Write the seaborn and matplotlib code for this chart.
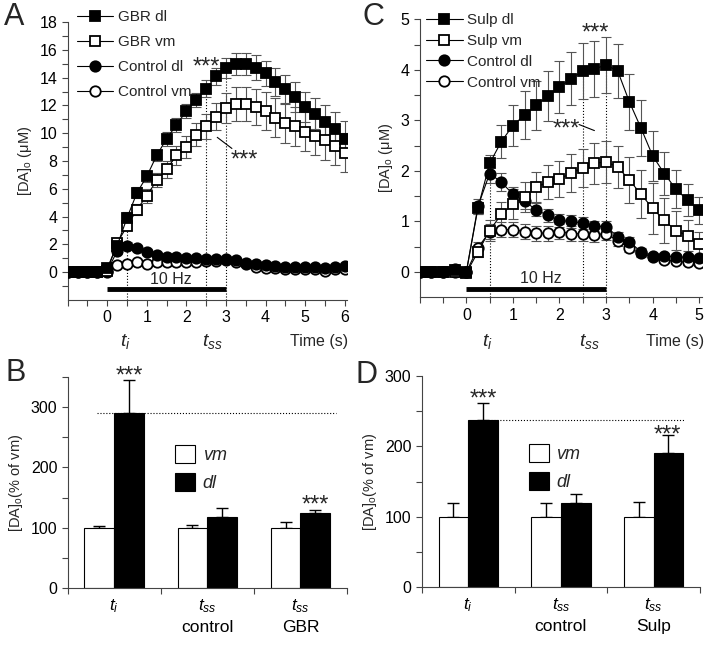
import numpy as np
import pandas as pd
import seaborn as sns
import matplotlib.pyplot as plt
from matplotlib.lines import Line2D
from matplotlib.patches import Patch
import matplotlib.transforms as mtransforms

sns.set_style('ticks')
plt.rcParams['font.family'] = ['Liberation Sans', 'DejaVu Sans']
plt.rcParams['mathtext.fontset'] = 'custom'
plt.rcParams['mathtext.rm'] = 'Liberation Sans'
plt.rcParams['mathtext.it'] = 'Liberation Sans:italic'
plt.rcParams['axes.edgecolor'] = '#444444'
plt.rcParams['xtick.color'] = '#444444'
plt.rcParams['ytick.color'] = '#444444'
plt.rcParams['xtick.labelcolor'] = 'black'
plt.rcParams['ytick.labelcolor'] = 'black'

# ---- panel A: GBR, time course (s) ----
time_a = np.arange(-1, 6.01, 0.25)
gbr_dl = [0, 0, 0, 0, 0.3, 1.9, 3.9, 5.7, 6.9, 8.4, 9.6, 10.6, 11.6, 12.4, 13.2, 14.1,
          14.7, 15.0, 15.0, 14.7, 14.3, 13.7, 13.2, 12.6, 11.9, 11.4, 10.8, 10.3, 9.6]
gbr_dl_err = [0.1, 0.1, 0.1, 0.1, 0.1, 0.3, 0.4, 0.4, 0.4, 0.4, 0.5, 0.5, 0.5, 0.5, 0.6,
              0.6, 0.7, 0.8, 0.8, 0.9, 0.9, 1.0, 1.0, 1.1, 1.1, 1.1, 1.2, 1.2, 1.3]
gbr_vm = [0, 0, 0, 0, 0.1, 2.1, 3.3, 4.5, 5.5, 6.6, 7.4, 8.4, 9.0, 9.9, 10.5, 11.2,
          11.8, 12.1, 12.1, 11.9, 11.6, 11.1, 10.7, 10.5, 10.1, 9.8, 9.5, 9.1, 8.6]
gbr_vm_err = [0.1, 0.1, 0.1, 0.1, 0.1, 0.3, 0.3, 0.4, 0.5, 0.5, 0.6, 0.7, 0.8, 0.8, 0.9,
              1.0, 1.1, 1.2, 1.2, 1.3, 1.4, 1.4, 1.4, 1.4, 1.4, 1.4, 1.4, 1.4, 1.4]
ctla_dl = [0, 0, 0, 0, 0.1, 1.5, 1.9, 1.75, 1.45, 1.25, 1.1, 1.05, 1.0, 1.0, 0.95, 0.95,
           0.95, 0.85, 0.65, 0.55, 0.5, 0.45, 0.4, 0.35, 0.35, 0.35, 0.3, 0.4, 0.45]
ctla_dl_err = [0.05] * 5 + [0.2, 0.25, 0.2, 0.2, 0.15, 0.15, 0.15, 0.15, 0.15, 0.15, 0.15,
                            0.15, 0.15, 0.1, 0.1, 0.1, 0.1, 0.1, 0.1, 0.1, 0.1, 0.1, 0.1, 0.1]
ctla_vm = [0, 0, 0, 0, 0, 0.5, 0.6, 0.7, 0.6, 0.7, 0.7, 0.75, 0.75, 0.75, 0.8, 0.8,
           0.85, 0.75, 0.55, 0.4, 0.3, 0.3, 0.25, 0.25, 0.2, 0.2, 0.1, 0.2, 0.25]
ctla_vm_err = [0.05] * 5 + [0.15] * 24

# ---- panel C: sulpiride, time course (s) ----
time_c = np.arange(-1, 5.01, 0.25)
sulp_dl = [0, 0, 0, 0.03, 0, 1.27, 2.15, 2.58, 2.9, 3.11, 3.3, 3.48, 3.66, 3.83, 3.98,
           4.02, 4.1, 3.98, 3.37, 2.85, 2.3, 1.95, 1.64, 1.42, 1.22]
sulp_dl_err = [0.03] * 5 + [0.12, 0.17, 0.33, 0.4, 0.47, 0.48, 0.5, 0.52, 0.53, 0.55,
                            0.55, 0.55, 0.53, 0.55, 0.55, 0.5, 0.43, 0.38, 0.32, 0.26]
sulp_vm = [0, 0, 0, 0, -0.02, 0.4, 0.82, 1.14, 1.34, 1.49, 1.68, 1.78, 1.84, 1.96, 2.06,
           2.15, 2.18, 2.08, 1.82, 1.54, 1.26, 1.02, 0.82, 0.72, 0.56]
sulp_vm_err = [0.03] * 5 + [0.1, 0.2, 0.25, 0.3, 0.3, 0.3, 0.33, 0.35, 0.37, 0.37,
                            0.4, 0.42, 0.42, 0.45, 0.48, 0.5, 0.45, 0.38, 0.3, 0.24]
ctlc_dl = [0, 0, 0, 0.05, 0, 1.3, 1.95, 1.78, 1.54, 1.4, 1.23, 1.12, 1.02, 1.0, 0.97,
           0.91, 0.9, 0.7, 0.6, 0.4, 0.32, 0.32, 0.3, 0.29, 0.27]
ctlc_dl_err = [0.03] * 5 + [0.15, 0.18, 0.18, 0.15, 0.15, 0.13, 0.13, 0.12, 0.12, 0.12,
                            0.1, 0.1, 0.1, 0.1, 0.08, 0.06, 0.06, 0.06, 0.06, 0.06]
ctlc_vm = [0, 0, 0, 0, 0, 0.48, 0.8, 0.84, 0.84, 0.8, 0.77, 0.77, 0.8, 0.76, 0.76,
           0.74, 0.76, 0.62, 0.47, 0.37, 0.3, 0.24, 0.21, 0.19, 0.17]
ctlc_vm_err = [0.03] * 5 + [0.12, 0.15, 0.15, 0.15, 0.15, 0.15, 0.15, 0.15, 0.15, 0.15,
                            0.14, 0.13, 0.1, 0.08, 0.07, 0.06, 0.06, 0.06, 0.05, 0.05]

# ---- panels B and D: % of vm ----
conds = ['ti', 'tss control', 'tss drug']
b_vm = [100, 100, 100]
b_vm_err = [3, 5, 10]
b_dl = [290, 118, 125]
b_dl_err = [55, 15, 5]
d_vm = [100, 100, 100]
d_vm_err = [19, 19, 21]
d_dl = [238, 120, 191]
d_dl_err = [24, 12, 25]

fig = plt.figure(figsize=(7.2, 6.49), dpi=100)
ax_a = fig.add_axes([0.094, 0.538, 0.388, 0.428])
ax_c = fig.add_axes([0.583, 0.542, 0.392, 0.428])
ax_b = fig.add_axes([0.094, 0.094, 0.388, 0.325])
ax_d = fig.add_axes([0.586, 0.0955, 0.386, 0.325])


def stars(ax, x, y, ha='center'):
    # asterisks sit high in the em box, so pull the text down a little
    tr = mtransforms.offset_copy(ax.transData, fig=fig, y=-7, units='dots')
    ax.text(x, y, '***', transform=tr, ha=ha, va='center', fontsize=17, clip_on=False)


def trace(ax, t, y, err, marker, filled, label):
    ax.errorbar(t, y, yerr=err, fmt='none', ecolor='#555555', elinewidth=0.8,
                capsize=3.5, capthick=0.8, zorder=2)
    sns.lineplot(x=t, y=y, ax=ax, color='black', lw=0.8, marker=marker, markersize=7.5,
                 markerfacecolor='black' if filled else 'white', markeredgecolor='black',
                 markeredgewidth=1.3, errorbar=None, zorder=3)
    return Line2D([], [], color='black', lw=0.8, marker=marker, markersize=7.5,
                  markerfacecolor='black' if filled else 'white',
                  markeredgecolor='black', markeredgewidth=1.3, label=label)


def time_axis(ax, xmax, ylim, major, minor, ti_y):
    ax.set_xlim(-1, xmax + 0.06)
    ax.set_ylim(*ylim)
    ax.set_xticks(np.arange(0, xmax + 0.1, 1))
    ax.set_xticks(np.arange(-1, xmax + 0.1, 0.5), minor=True)
    ax.set_yticks(major)
    ax.set_yticks(minor, minor=True)
    ax.tick_params(which='both', length=4, width=0.8, labelsize=11.5)
    ax.tick_params(which='minor', length=4)
    sns.despine(ax=ax)
    ax.set_ylabel(r'[DA]$_\mathregular{o}$ ($\mathregular{\mu}$M)', fontsize=10.5, labelpad=4)
    tr = mtransforms.blended_transform_factory(ax.transData, ax.transAxes)
    ax.text(0.45, ti_y, r'$t_i$', transform=tr, ha='center', va='center', fontsize=14)
    ax.text(2.65, ti_y, r'$t_{ss}$', transform=tr, ha='center', va='center', fontsize=14)
    ax.text(xmax + 0.1, ti_y, 'Time (s)', transform=tr, ha='right', va='center', fontsize=11.5)


# panel A
h = []
h.append(trace(ax_a, time_a, ctla_vm, ctla_vm_err, 'o', False, 'Control vm'))
h.append(trace(ax_a, time_a, ctla_dl, ctla_dl_err, 'o', True, 'Control dl'))
h.append(trace(ax_a, time_a, gbr_vm, gbr_vm_err, 's', False, 'GBR vm'))
h.append(trace(ax_a, time_a, gbr_dl, gbr_dl_err, 's', True, 'GBR dl'))
time_axis(ax_a, 6, (-2, 18), np.arange(0, 19, 2), np.arange(-1, 18, 2), -0.15)
ax_a.vlines([0.5, 2.5, 3.0], -2, [gbr_dl[6], gbr_dl[14], gbr_dl[16]],
            colors='black', linestyles=':', lw=0.8, zorder=1)
ax_a.plot([0, 3], [-1.25, -1.25], color='black', lw=3.5, solid_capstyle='butt')
ax_a.text(1.6, -0.5, '10 Hz', ha='center', va='center', fontsize=11.5)
stars(ax_a, 2.84, 15.2, ha='right')
ax_a.plot([2.78, 3.15], [9.7, 8.9], color='black', lw=0.8)
stars(ax_a, 3.13, 8.5, ha='left')
ax_a.legend(handles=h[::-1], loc='upper left', bbox_to_anchor=(0.01, 1.065), frameon=False,
            fontsize=11, handlelength=2.4, handletextpad=0.3, labelspacing=0.72,
            borderaxespad=0)

# panel C
h = []
h.append(trace(ax_c, time_c, ctlc_vm, ctlc_vm_err, 'o', False, 'Control vm'))
h.append(trace(ax_c, time_c, ctlc_dl, ctlc_dl_err, 'o', True, 'Control dl'))
h.append(trace(ax_c, time_c, sulp_vm, sulp_vm_err, 's', False, 'Sulp vm'))
h.append(trace(ax_c, time_c, sulp_dl, sulp_dl_err, 's', True, 'Sulp dl'))
time_axis(ax_c, 5, (-0.5, 5), np.arange(0, 6, 1), np.arange(0.5, 5, 1), -0.16)
ax_c.vlines([0.5, 2.5, 3.0], -0.5, [sulp_dl[6], sulp_dl[14], sulp_dl[16]],
            colors='black', linestyles=':', lw=0.8, zorder=1)
ax_c.plot([0, 3], [-0.34, -0.34], color='black', lw=3.5, solid_capstyle='butt')
ax_c.text(1.6, -0.13, '10 Hz', ha='center', va='center', fontsize=11.5)
stars(ax_c, 2.77, 4.86)
stars(ax_c, 2.45, 2.96, ha='right')
ax_c.plot([2.42, 2.75], [2.92, 2.8], color='black', lw=0.8)
ax_c.legend(handles=h[::-1], loc='upper left', bbox_to_anchor=(0.0, 1.045), frameon=False,
            fontsize=11, handlelength=2.4, handletextpad=0.3, labelspacing=0.45,
            borderaxespad=0)


def bar_panel(ax, vm, vm_err, dl, dl_err, ymax, drug, line_x):
    df = pd.DataFrame({'cond': conds * 2, 'region': ['vm'] * 3 + ['dl'] * 3,
                       'val': vm + dl})
    sns.barplot(data=df, x='cond', y='val', hue='region', hue_order=['vm', 'dl'],
                palette={'vm': 'white', 'dl': 'black'}, edgecolor='black', linewidth=0.8,
                width=0.64, errorbar=None, legend=False, ax=ax, zorder=2)
    x = np.arange(3)
    ax.errorbar(x - 0.16, vm, yerr=[np.zeros(3), vm_err], fmt='none', ecolor='black',
                elinewidth=1, capsize=4, capthick=1, zorder=1)
    ax.errorbar(x + 0.16, dl, yerr=[np.zeros(3), dl_err], fmt='none', ecolor='black',
                elinewidth=1, capsize=4, capthick=1, zorder=1)
    ax.set_xlim(-0.5, 2.5)
    ax.set_ylim(0, ymax)
    ax.set_yticks(np.arange(0, ymax + 1, 100))
    ax.set_yticks(np.arange(50, ymax + 1, 100), minor=True)
    ax.set_xticks(x)
    ax.set_xticklabels([r'$t_i$', '$t_{ss}$\ncontrol', '$t_{ss}$\n' + drug],
                       fontsize=12.5, linespacing=1.4)
    ax.set_xticks([-0.5, 0.5, 1.5, 2.5], minor=True)
    ax.tick_params(axis='x', which='major', length=0, pad=7)
    ax.tick_params(axis='y', labelsize=11.5)
    ax.tick_params(which='minor', length=4, width=0.8)
    ax.tick_params(axis='y', which='major', length=4, width=0.8)
    ax.set_xlabel('')
    ax.set_ylabel(r'[DA]$_\mathregular{o}$(% of vm)', fontsize=10.5, labelpad=4)
    sns.despine(ax=ax)
    ax.hlines(dl[0], line_x[0], line_x[1], colors='black', linestyles=':', lw=0.8, zorder=3)
    handles = [Patch(facecolor='white', edgecolor='black', lw=0.8, label='vm'),
               Patch(facecolor='black', edgecolor='black', lw=0.8, label='dl')]
    leg = ax.legend(handles=handles, loc='upper left', bbox_to_anchor=(0.36, 0.71),
                    frameon=False, fontsize=13, handlelength=1.1, handleheight=1.1,
                    handletextpad=0.4, labelspacing=0.5, borderaxespad=0)
    for t in leg.get_texts():
        t.set_fontstyle('italic')


bar_panel(ax_b, b_vm, b_vm_err, b_dl, b_dl_err, 350, 'GBR', (-0.18, 2.38))
stars(ax_b, 0.16, 362)
stars(ax_b, 2.16, 149)

bar_panel(ax_d, d_vm, d_vm_err, d_dl, d_dl_err, 300, 'Sulp', (0.25, 2.34))
stars(ax_d, 0.16, 277)
stars(ax_d, 2.15, 226)

for lbl, x, y in [('A', 0.006, 0.997), ('C', 0.503, 0.997), ('B', 0.008, 0.448),
                  ('D', 0.494, 0.445)]:
    fig.text(x, y, lbl, fontsize=22, va='top', ha='left')

fig.savefig('out.png', dpi=100)
